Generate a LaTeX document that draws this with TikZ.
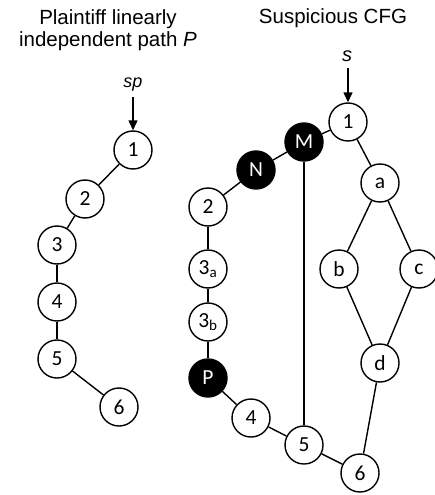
\documentclass[tikz,border=0pt]{standalone}
\usepackage{fontspec}
\setmainfont{Liberation Sans}
\newfontfamily\nodefont{Carlito}
\usetikzlibrary{arrows.meta}
\tikzset{
  vtx/.style={circle, draw=black, line width=1.4pt, fill=white, minimum size=38pt,
    inner sep=0pt, font=\nodefont\fontsize{21.5}{23}\selectfont},
  hot/.style={vtx, fill=black, text=white},
  edge/.style={line width=1.4pt},
  entry/.style={line width=1.4pt, -{Triangle[length=10pt,width=9pt]}},
  title/.style={font=\fontsize{20.5}{22}\selectfont, align=center},
  start/.style={font=\itshape\fontsize{20}{22}\selectfont, inner sep=1pt}
}
\begin{document}
\begin{tikzpicture}[x=1pt,y=-1pt]
\useasboundingbox (0,0) rectangle (434,495);

% titles
\node[title, anchor=base] (tl) at (108,25) {Plaintiff linearly};
\node[title, anchor=base] (tl2) at (108,47) {independent path \textit{P}};
\node[title, anchor=base] (tr) at (333,24) {Suspicious CFG};

% path P
\node[start, anchor=base, font=\itshape\fontsize{18}{20}\selectfont] (sp) at (133,88) {sp};
\coordinate (spt) at (133,97);
\node[vtx] (p1) at (133,150) {1};
\node[vtx] (p2) at (85,199) {2};
\node[vtx] (p3) at (57,245) {3};
\node[vtx] (p4) at (57,302) {4};
\node[vtx] (p5) at (57,359) {5};
\node[vtx] (p6) at (119,407) {6};
\draw[entry] (spt) -- (p1);
\draw[edge] (p1) -- (p2);
\draw[edge] (p2) -- (p3);
\draw[edge] (p3) -- (p4);
\draw[edge] (p4) -- (p5);
\draw[edge] (p5) -- (p6);

% suspicious CFG
\node[start, anchor=base] (s) at (347,62) {s};
\coordinate (st) at (348,68);
\node[vtx] (c1) at (348,122) {1};
\node[hot] (cM) at (304,142) {M};
\node[hot] (cN) at (256,170) {N};
\node[vtx] (c2) at (208,207) {2};
\node[vtx] (c3a) at (208,269) {3\textsubscript{a}};
\node[vtx] (c3b) at (208,322) {3\textsubscript{b}};
\node[hot] (cP) at (208,378) {P};
\node[vtx] (c4) at (251,418) {4};
\node[vtx] (c5) at (304,445) {5};
\node[vtx] (c6) at (360,473) {6};
\node[vtx] (ca) at (380,183) {a};
\node[vtx] (cb) at (339,269) {b};
\node[vtx] (cc) at (419,269) {c};
\node[vtx] (cd) at (380,363) {d};

\draw[entry] (st) -- (c1);
\draw[edge] (c1) -- (cM);
\draw[edge] (cM) -- (cN);
\draw[edge] (cN) -- (c2);
\draw[edge] (c2) -- (c3a);
\draw[edge] (c3a) -- (c3b);
\draw[edge] (c3b) -- (cP);
\draw[edge] (cP) -- (c4);
\draw[edge] (c4) -- (c5);
\draw[edge] (c5) -- (c6);
\draw[edge] (cM) -- (c5);
\draw[edge] (c1) -- (ca);
\draw[edge] (ca) -- (cb);
\draw[edge] (ca) -- (cc);
\draw[edge] (cb) -- (cd);
\draw[edge] (cc) -- (cd);
\draw[edge] (cd) -- (c6);
\end{tikzpicture}
\end{document}
